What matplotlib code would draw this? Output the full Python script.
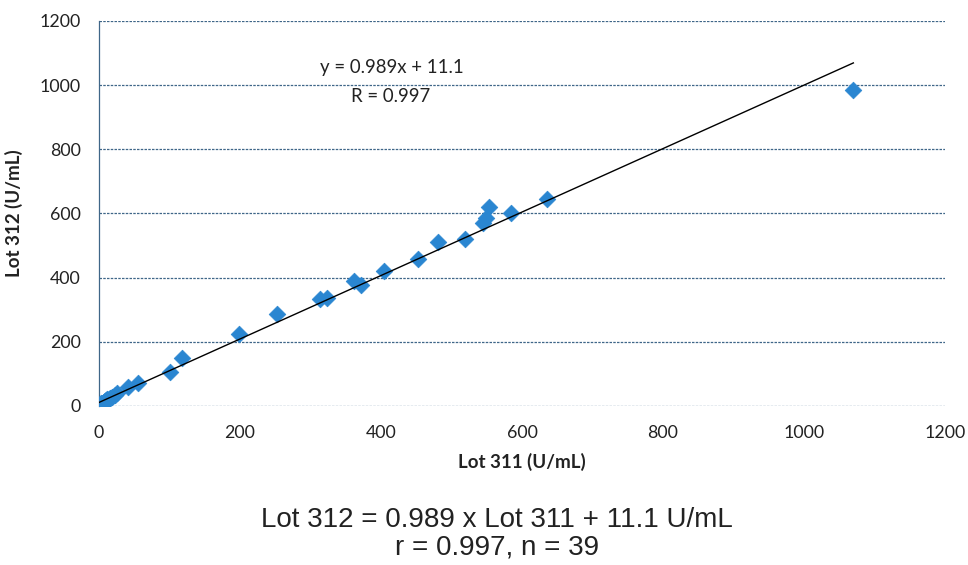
import matplotlib
matplotlib.use("Agg")
import matplotlib.pyplot as plt
import numpy as np

# Data
lot311 = [0.5, 1, 1.5, 2, 3, 3.5, 4, 5, 6, 7, 8, 9, 10, 12, 14, 16, 18, 22, 25,
          41, 56, 101, 118, 198, 253, 314, 324, 361, 371, 404, 452,
          481, 519, 545, 549, 553, 585, 636, 1070]
lot312 = [2, 3, 2, 5, 4, 9, 7, 8, 10, 13, 15, 17, 19, 21, 23, 26, 28, 33, 40,
          60, 72, 106, 150, 224, 287, 334, 337, 390, 377, 421, 458,
          511, 520, 570, 586, 620, 601, 645, 985]
slope = 0.989
intercept = 11.1
r_value = 0.997
n_points = 39
x_ticks = [0, 200, 400, 600, 800, 1000, 1200]
y_ticks = [0, 200, 400, 600, 800, 1000, 1200]

W, H = 968, 565
fig = plt.figure(figsize=(W / 100, H / 100), dpi=100)
ax = fig.add_axes([99 / W, 1 - 406 / H, (945 - 99) / W, (406 - 21) / H])

grid_color = "#3f6688"
ax.set_xlim(0, 1200)
ax.set_ylim(0, 1200)
for yt in y_ticks:
    ax.axhline(yt, color=grid_color, lw=0.9, ls=(0, (2, 1)), zorder=1)
for s in ["top", "right", "bottom"]:
    ax.spines[s].set_visible(False)
ax.spines["left"].set_color(grid_color)
ax.spines["left"].set_linewidth(0.9)
ax.spines["left"].set_linestyle((0, (2, 1)))

ax.scatter(lot311, lot312, marker="D", s=72, color="#2a86d1",
           edgecolors="#2a86d1", linewidths=0.5, zorder=3)

xs = np.array([min(lot311), max(lot311)])
ax.plot(xs, slope * xs + intercept, color="black", lw=1.0, zorder=4)

ax.set_xticks(x_ticks)
ax.set_yticks(y_ticks)
ax.tick_params(axis="x", length=0, labelsize=12.8, colors="#222222", pad=14)
ax.tick_params(axis="y", length=0, labelsize=12.8, colors="#222222", pad=13)
for lab in ax.get_xticklabels() + ax.get_yticklabels():
    lab.set_fontfamily("Lato")

ax.set_xlabel("Lot 311 (U/mL)", fontsize=13.5, fontweight="bold",
              fontfamily="Lato", color="#222222", labelpad=8)
ax.set_ylabel("Lot 312 (U/mL)", fontsize=13.5, fontweight="bold",
              fontfamily="Lato", color="#222222", labelpad=12)

ax.text(415, 1054, f"y = {slope}x + {intercept}", ha="center", va="center",
        fontsize=13.4, fontfamily="Lato", color="#222222")
ax.text(413, 966, f"R = {r_value}", ha="center", va="center",
        fontsize=13.4, fontfamily="Lato", color="#222222")

fig.text(497 / W, 1 - 520 / H, f"Lot 312 = {slope} x Lot 311 + {intercept} U/mL",
         ha="center", va="center", fontsize=20, fontfamily="Liberation Sans",
         color="#222222")
fig.text(497 / W, 1 - 547 / H, f"r = {r_value}, n = {n_points}",
         ha="center", va="center", fontsize=20, fontfamily="Liberation Sans",
         color="#222222")

fig.savefig("out.png", dpi=100)
